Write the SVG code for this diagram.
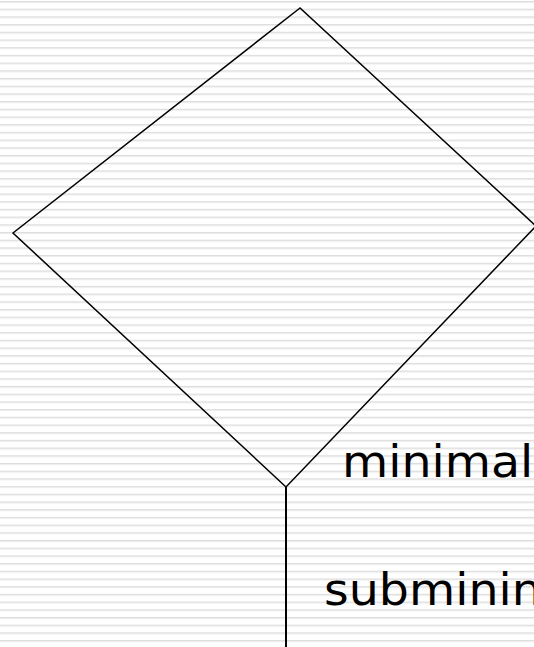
<svg xmlns="http://www.w3.org/2000/svg" width="534" height="647" viewBox="0 0 534 647">
  <defs>
    <pattern id="stripes" x="0" y="0" width="20" height="7.7" patternUnits="userSpaceOnUse">
      <rect x="0" y="0" width="20" height="7.7" fill="#ffffff"/>
      <rect x="0" y="1" width="20" height="1" fill="#dcdcdc"/>
      <rect x="0" y="2" width="20" height="1" fill="#ececec"/>
    </pattern>
  </defs>
  <style>
    .shape { fill: none; stroke: #000000; stroke-width: 1.5; }
    .conn { fill: none; stroke: #000000; stroke-width: 2; }
    .label { font-family: "DejaVu Sans", Verdana, sans-serif; font-size: 45px; fill: #000000; }
  </style>
  <rect x="0" y="0" width="534" height="647" fill="url(#stripes)"/>
  <g id="decision">
    <polygon class="shape" points="300,8 13,233 286,487 536,226"/>
  </g>
  <g id="connectors">
    <line class="conn" x1="286" y1="487" x2="286" y2="647"/>
  </g>
  <g id="label-minimal">
    <text class="label" transform="translate(342,477) scale(1.055,1)">minimal</text>
  </g>
  <g id="label-subminin">
    <text class="label" transform="translate(324,605) scale(1.055,1)">subminin</text>
  </g>
</svg>
